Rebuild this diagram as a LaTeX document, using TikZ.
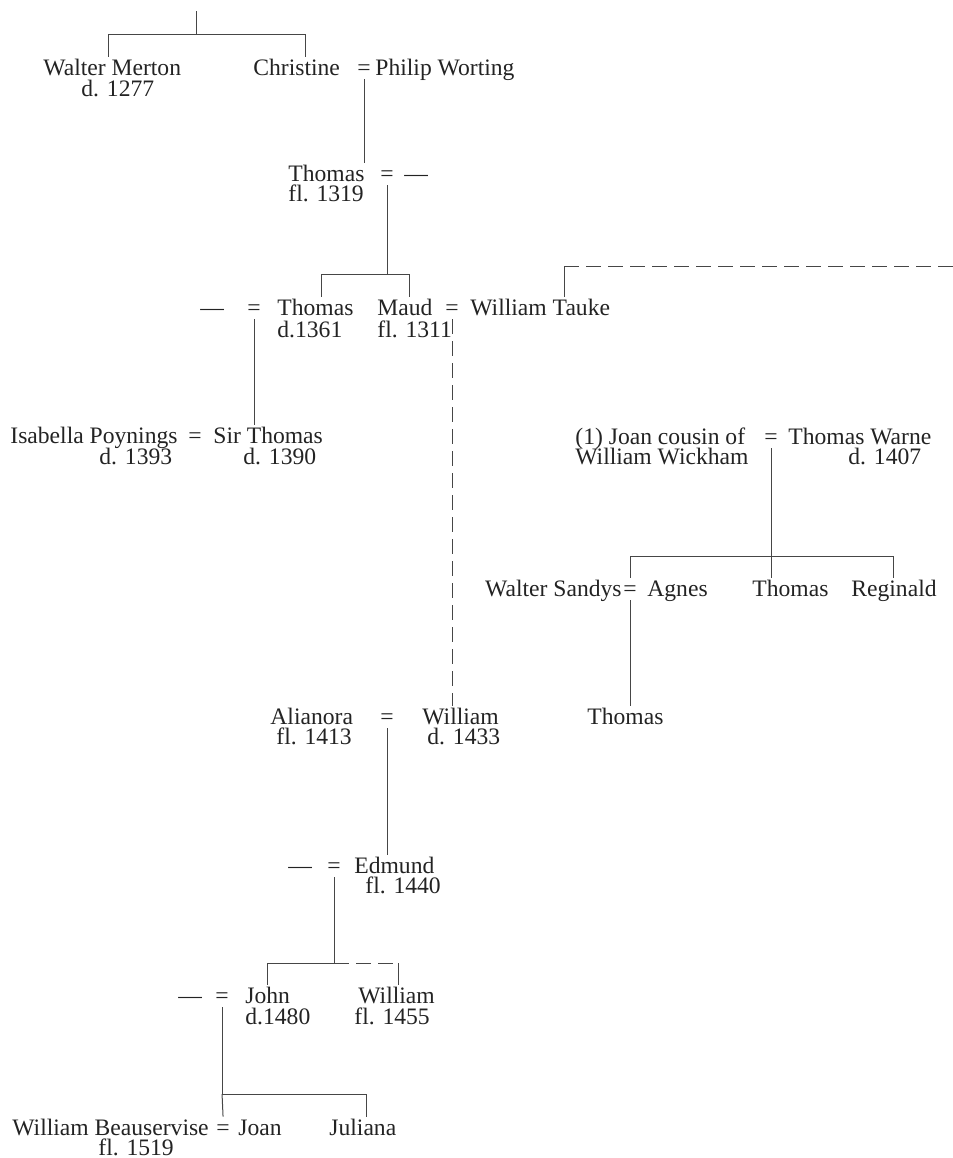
\documentclass[tikz,border=0pt]{standalone}
\usepackage{fontspec}
\setmainfont{Liberation Serif}
\usepackage{tikz}
\usetikzlibrary{positioning}
\definecolor{inktext}{RGB}{35, 35, 35}
\definecolor{inkline}{RGB}{70, 70, 70}
\newcommand{\treefont}{\fontsize{11.8pt}{10.5pt}\selectfont}

\begin{document}
\begin{tikzpicture}[x=0.5pt, y=-0.5pt,
    person/.style={anchor=base west, inner xsep=0pt, inner ysep=1pt, text height=8pt,
                   text depth=0pt, font=\treefont, text=inktext},
    date/.style={person, text height=7pt},
    wedlock/.style={person, text depth=1pt},
    tie/.style={line width=0.5pt, draw=inkline},
    faint/.style={tie, dash pattern=on 7.5pt off 3.5pt}]
    \useasboundingbox (0,0) rectangle (953,1158);

    \node[person] (wm) at (43,75) {Walter Merton};
    \node[date] (wmDate) at (81,96) {d. 1277};
    \node[person] (chr) at (253,75) {Christine};
    \node[wedlock] (eq1) at (357,75) {=};
    \node[person] (pw) at (375,75) {Philip Worting};

    \node[person] (th1) at (288,181) {Thomas};
    \node[date] (th1Date) at (288,201) {fl. 1319};
    \node[wedlock] (eq2) at (380,181) {=};
    \node[person] (sp1) at (404,181) {---};

    \node[person] (sp2) at (200,315) {---};
    \node[wedlock] (eq3) at (247,315) {=};
    \node[person] (th2) at (277,315) {Thomas};
    \node[date] (th2Date) at (277,337) {d.1361};
    \node[person] (maud) at (377,315) {Maud};
    \node[date] (maudDate) at (377,337) {fl. 1311};
    \node[wedlock] (eq4) at (445,315) {=};
    \node[person] (wt) at (470,315) {William Tauke};

    \node[person] (ip) at (10,443) {Isabella Poynings};
    \node[date] (ipDate) at (99,464) {d. 1393};
    \node[wedlock] (eq5) at (188,443) {=};
    \node[person] (st) at (213,443) {Sir Thomas};
    \node[date] (stDate) at (243,464) {d. 1390};

    \node[person] (jw) at (575,444) {(1) Joan cousin of};
    \node[date] (jwLine) at (575,464) {William Wickham};
    \node[wedlock] (eq6) at (764,444) {=};
    \node[person] (tw) at (788,444) {Thomas Warne};
    \node[date] (twDate) at (848,464) {d. 1407};

    \node[person, anchor=base east] (ws) at (622,596) {Walter Sandys};
    \node[wedlock] (eq7) at (623,596) {=};
    \node[person] (ag) at (647,596) {Agnes};
    \node[person] (th3) at (752,596) {Thomas};
    \node[person] (rg) at (851,596) {Reginald};
    \node[person] (th4) at (587,724) {Thomas};

    \node[person] (al) at (270,724) {Alianora};
    \node[date] (alDate) at (276,744) {fl. 1413};
    \node[wedlock] (eq8) at (380,724) {=};
    \node[person] (wi) at (422,724) {William};
    \node[date] (wiDate) at (427,744) {d. 1433};

    \node[person] (sp3) at (288,873) {---};
    \node[wedlock] (eq9) at (327,873) {=};
    \node[person] (ed) at (354,873) {Edmund};
    \node[date] (edDate) at (365,893) {fl. 1440};

    \node[person] (sp4) at (178,1003) {---};
    \node[wedlock] (eq10) at (215,1003) {=};
    \node[person] (jo) at (245,1003) {John};
    \node[date] (joDate) at (245,1024) {d.1480};
    \node[person] (wi2) at (358,1003) {William};
    \node[date] (wi2Date) at (354,1024) {fl. 1455};

    \node[person] (wb) at (12,1135) {William Beauservise};
    \node[date] (wbDate) at (98,1155) {fl. 1519};
    \node[wedlock] (eq11) at (216,1135) {=};
    \node[person] (joan) at (238,1135) {Joan};
    \node[person] (jul) at (329,1135) {Juliana};

    \coordinate (root) at (196,11);
    \coordinate (barA) at (196,34);
    \coordinate (barAl) at (108,34);
    \coordinate (barAr) at (305,34);
    \coordinate (barBl) at (321,274);
    \coordinate (barBr) at (409,274);
    \coordinate (wtc) at (564,266);
    \coordinate (offR) at (953,266);
    \coordinate (barCl) at (630,556);
    \coordinate (barCr) at (893,556);
    \coordinate (barDl) at (267,963);
    \coordinate (barDr) at (398,963);
    \coordinate (barEr) at (366,1094);

    \draw[tie] (root) -- (barA);
    \draw[tie] (barAl |- wm.north) -- (barAl) -- (barAr) -- (barAr |- chr.north);
    \draw[tie] (eq1.south) -- (eq1.south |- th1.north);

    \draw[tie] (eq2.south) -- (eq2.south |- barBl);
    \draw[tie] (barBl |- th2.north) -- (barBl) -- (barBr) -- (barBr |- maud.north);
    \draw[tie] (wtc |- wt.north) -- (wtc);
    \draw[faint] (wtc) -- (offR);

    \draw[tie] (eq3.south) -- (eq3.south |- st.north);
    \draw[faint] (eq4.south) -- (eq4.south |- wi.north);

    \draw[tie] (eq6.south) -- (eq6.south |- barCl);
    \draw[tie] (barCl |- eq7.north) -- (barCl) -- (barCr) -- (barCr |- rg.north);
    \draw[tie] (eq6.south |- barCl) -- (eq6.south |- th3.north);
    \draw[tie] (eq7.south) -- (eq7.south |- th4.north);

    \draw[tie] (eq8.south) -- (eq8.south |- ed.north);
    \draw[tie] (eq9.south) -- (eq9.south |- barDl);
    \draw[tie] (barDl |- jo.north) -- (barDl) -- (eq9.south |- barDl);
    \draw[faint] (eq9.south |- barDl) -- (barDr);
    \draw[tie] (barDr) -- (barDr |- wi2.north);

    \draw[tie] (eq10.south) -- (eq10.south |- barEr) -- (barEr) -- (barEr |- jul.north);
    \draw[tie] (eq10.south |- barEr) -- (eq11.north);
\end{tikzpicture}
\end{document}
